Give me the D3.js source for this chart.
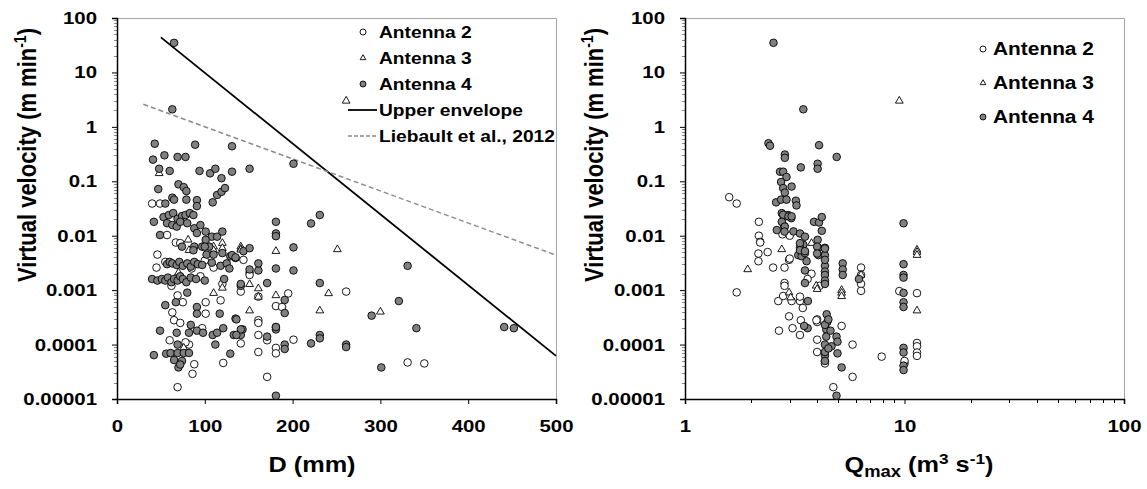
<!DOCTYPE html>
<html>
<head>
<meta charset="utf-8">
<script src="https://cdn.jsdelivr.net/npm/d3@7"></script>
<style>
  body { margin: 0; background: #fff; }
  svg { font-family: "Liberation Sans", Arial, sans-serif; font-weight: bold; }
</style>
</head>
<body>
<svg id="chart" width="1147" height="489"></svg>
<script>
// y axis (shared by both panels)
var yTicks = [0.00001, 0.0001, 0.001, 0.01, 0.1, 1, 10, 100];
var yTickLabels = ["0.00001", "0.0001", "0.001", "0.01", "0.1", "1", "10", "100"];
var dTicks = [0, 100, 200, 300, 400, 500];
var qTicks = [1, 10, 100];

// left panel: virtual velocity vs grain size D (mm)
var ant2D = [[40,0.039],[49,0.039],[57,0.0103],[67,0.0075],[72,0.0073],[46,0.0045],[55,0.0033],[45,0.0026],
  [110,0.0026],[100,0.0035],[85,0.0025],[69,0.0008],[63,0.00039],[101,0.00037],[101,0.0006],[118,0.00065],
  [65,0.00028],[72,0.00025],[97,0.0002],[82,0.0001],[88,0.0000435],[121,0.000046],[86,0.000029],[69,0.0000165],
  [60,0.00012],[78,0.00011],[62,0.0012],[95,0.0018],[120,0.0013],[75,0.0006],
  [144,0.0036],[151,0.0021],[151,0.0019],[141,0.00094],[161,0.00076],[195,0.00087],[181,0.00051],[188,0.00049],
  [161,0.00028],[161,0.00025],[181,0.00021],[161,0.00015],[171,0.00012],[141,0.000105],[161,0.000073],
  [181,0.000087],[181,0.000069],[201,0.000123],[261,0.00094],[171,0.0000255],[331,0.000047],[350,0.000045]];
var ant3D = [[48,0.14],[81,0.0084],[110,0.0063],[120,0.0073],[141,0.0063],[82,0.0054],[110,0.0054],[120,0.0059],
  [141,0.0057],[110,0.00088],[120,0.0011],[141,0.0055],[181,0.0052],[251,0.0056],[151,0.00128],[161,0.00107],
  [161,0.00075],[181,0.0008],[241,0.00087],[151,0.00042],[231,0.00042],[300,0.0004],[261,3.0],[76,0.000087],[70,0.0021]];
var ant4D = [[65,35],[63,2.1],[43,0.49],[41,0.25],[54,0.30],[69,0.28],[78,0.28],[89,0.47],[131,0.44],[151,0.17],[201,0.21],
  [48,0.17],[60,0.155],[94,0.155],[106,0.14],[112,0.17],[119,0.114],[131,0.15],
  [47,0.072],[70,0.088],[76,0.078],[79,0.066],[63,0.05],[65,0.046],[79,0.046],[91,0.045],[91,0.035],[109,0.041],
  [114,0.056],[119,0.064],[123,0.075],[55,0.039],
  [42,0.018],[49,0.0103],[53,0.022],[59,0.024],[64,0.026],[69,0.0205],[74,0.023],[78,0.024],[83,0.026],[87,0.024],
  [57,0.017],[63,0.0157],[68,0.0147],[72,0.018],[80,0.017],[88,0.0137],[95,0.0157],[101,0.0119],[108,0.0096],
  [114,0.0096],[120,0.0119],[105,0.0063],[91,0.0112],[101,0.0084],[88,0.0063],[97,0.0063],
  [181,0.018],[181,0.011],[181,0.0098],[231,0.024],[221,0.0168],
  [74,0.0063],[87,0.0054],[100,0.0063],[102,0.0045],[110,0.0045],[120,0.0048],[129,0.0042],[135,0.0039],[144,0.0052],
  [201,0.0061],[151,0.0059],[131,0.0044],[135,0.0040],
  [57,0.003],[60,0.0033],[63,0.0031],[68,0.0029],[71,0.0033],[75,0.0028],[80,0.0031],[84,0.0027],[88,0.0033],
  [92,0.003],[97,0.0029],[108,0.0032],[118,0.0028],[125,0.0031],[128,0.0025],
  [151,0.0024],[161,0.0023],[161,0.0031],[181,0.0025],[201,0.0023],[331,0.0028],
  [40,0.0016],[46,0.0015],[51,0.0016],[55,0.0015],[58,0.0017],[62,0.0014],[65,0.0016],[69,0.0015],[72,0.0018],
  [75,0.0016],[79,0.0014],[84,0.0017],[90,0.0016],[100,0.0015],[122,0.0016],[141,0.0012],[171,0.00135],
  [141,0.0013],[231,0.00135],
  [55,0.00053],[67,0.0006],[80,0.0009],[91,0.00049],[91,0.00037],[117,0.00037],[135,0.0003],[84,0.00023],
  [49,0.00018],[68,0.000165],[82,0.000165],[91,0.00018],[98,0.000165],[109,0.00015],[114,0.000165],[121,0.0002],
  [133,0.00015],[141,0.00015],[143,0.00019],[69,0.0001],[112,0.0001],[42,0.000064],[56,0.000068],[61,0.00007],
  [69,0.00007],[76,0.00007],[82,0.00007],[65,0.000052],[74,0.00005],[70,0.000038],[72,0.000043],[129,0.000068],
  [191,0.00066],[191,0.00038],[136,0.00029],[141,0.00019],[136,0.00015],[171,0.00014],[181,0.00019],[181,0.00021],
  [191,0.0001],[191,0.000083],[221,0.000105],[231,0.00015],[231,0.00013],[261,0.0001],[261,0.00009],[181,0.0000115],
  [290,0.00034],[301,0.000038],[321,0.00063],[341,0.0002],[441,0.00021],[452,0.0002]];
var upperEnvelope = [[50,44],[500,0.000062]];
var liebault2012 = [[30,2.6],[500,0.0044]];

// right panel: virtual velocity vs peak discharge Qmax (m3/s)
var ant2Q = [[1.59,0.051],[1.72,0.039],[2.17,0.018],[2.17,0.01],[2.2,0.0077],[2.78,0.0106],[2.2,0.0075],[2.16,0.0047],
  [2.38,0.005],[2.16,0.0034],[2.52,0.0026],[2.84,0.0026],[2.98,0.0036],[2.84,0.00135],[2.84,0.0012],[1.72,0.00091],
  [2.66,0.00063],[2.8,0.00078],[3.34,0.00063],[3.44,0.00047],[2.98,0.00033],[3.37,0.00028],[2.68,0.00018],
  [3.09,0.0002],[3.34,0.00015],[3.77,0.002],[4.0,0.00026],[4.0,0.00029],[4.0,0.000123],[4.0,0.000073],
  [4.34,0.000049],[4.34,0.000045],[4.74,0.0000165],[5.8,0.0001],[5.8,0.0000255],[6.34,0.0026],[6.34,0.0019],
  [6.34,0.0013],[6.34,0.00097],[5.17,0.00022],[4.34,0.00135],[3.06,0.00063],[3.34,0.00076],[3.0,0.0038],
  [3.97,0.00028],[3.62,0.0016],[4.1,0.0012],[3.0,0.01],
  [7.87,0.00006],[9.47,0.00096],[10,0.000045],[10,0.00005],[11.4,0.00088],[11.4,0.000107],[11.4,0.000093],
  [11.4,0.0000715],[11.4,0.000062]];
var ant3Q = [[1.93,0.0024],[2.76,0.0056],[2.98,0.0009],[3.03,0.00073],[3.96,0.0012],[4.0,0.00104],[5.17,0.001],
  [5.17,0.00089],[5.17,0.00077],[6.34,0.0019],[3.77,0.0073],[9.47,3.0],[11.4,0.0055],[11.4,0.005],[11.4,0.0044],[11.4,0.00042]];
var ant4Q = [[2.53,35],[3.46,2.1],[2.40,0.50],[2.44,0.45],[4.08,0.46],[4.91,0.28],[2.85,0.31],[2.85,0.27],[3.37,0.18],
  [4.02,0.21],[4.02,0.17],[2.71,0.15],[2.80,0.15],[2.9,0.12],[2.74,0.097],[2.8,0.075],[3.06,0.08],[2.85,0.062],
  [2.60,0.041],[2.74,0.046],[2.9,0.046],[3.2,0.044],[3.22,0.036],[2.76,0.026],[2.82,0.022],[2.95,0.024],[3.05,0.021],
  [2.62,0.0127],[2.83,0.015],[3.12,0.012],[3.34,0.011],[3.52,0.0096],[3.87,0.018],[4.08,0.0175],[4.2,0.022],[4.2,0.0123],
  [2.8,0.0243],[2.96,0.0227],[3.06,0.0227],[2.76,0.018],[2.85,0.0147],[2.84,0.0119],
  [3.46,0.0068],[3.34,0.006],[3.28,0.0044],[3.4,0.0042],[3.52,0.0048],[4.02,0.0084],[4.05,0.006],[4.05,0.0044],
  [4.34,0.006],[4.34,0.0044],[4.34,0.0028],[4.34,0.0022],[4.34,0.0019],[4.34,0.0015],[4.34,0.0013],[4.34,0.0036],
  [4.34,0.0058],[4.0,0.0063],[4.0,0.0047],[3.34,0.0073],[3.34,0.0054],[3.52,0.0052],
  [3.58,0.0034],[3.52,0.0023],[3.52,0.00135],[3.63,0.00063],[3.62,0.0002],[3.49,0.00022],
  [5.23,0.0031],[5.23,0.0024],[5.23,0.0019],[6.2,0.0016],
  [4.42,0.00036],[4.45,0.00026],[4.4,0.00019],[4.4,0.00014],[4.34,0.0001],[4.34,0.000063],[4.34,0.00005],
  [4.34,0.00023],[4.5,0.00029],[4.9,0.00014],[4.95,0.000113],[4.95,0.000069],[4.65,0.000093],[5.17,0.000038],
  [4.9,0.0000115],[4.34,0.000073],[4.5,0.000085],[4.6,0.00018],
  [9.9,0.0169],[9.9,0.0030],[9.9,0.0019],[9.9,0.0017],[9.9,0.00089],[9.9,0.0006],[9.9,0.00049],[9.9,0.000087],
  [9.9,0.0000715],[9.9,0.000041],[9.9,0.000034]];

var svg = d3.select('#chart');
var plotTop = 18, plotBottom = 399;
var tri = d3.symbol().type(d3.symbolTriangle);
var fontFam = '"Liberation Sans", Arial, sans-serif';
var sx = 1.2;   // the reference text is a bit wider than plain Arial

function drawPanel(p){
  var g = svg.append('g');
  var x = p.x;
  var y = d3.scaleLog().domain([0.00001, 100]).range([plotBottom, plotTop]);
  var x0 = x.range()[0], x1 = x.range()[1];

  // plot area frame (top / right in gray)
  g.append('path')
      .attr('d', 'M' + x0 + ',' + (plotTop + 0.5) + 'H' + (x1 + 0.5) + 'V' + plotBottom)
      .attr('fill', 'none').attr('stroke', '#a6a6a6').attr('stroke-width', 1);

  // y minor ticks
  var yMinor = [];
  yTicks.slice(0, -1).forEach(function(t){ for (var k = 2; k < 10; k++) yMinor.push(t * k); });
  g.selectAll('.ym').data(yMinor).enter().append('line')
      .attr('x1', x0 - 3).attr('x2', x0)
      .attr('y1', function(d){ return Math.round(y(d)) + 0.5; })
      .attr('y2', function(d){ return Math.round(y(d)) + 0.5; })
      .attr('stroke', '#8a8a8a').attr('stroke-width', 1);

  var yAxis = g.append('g')
      .attr('transform', 'translate(' + x0 + ',0)')
      .call(d3.axisLeft(y).tickValues(yTicks).tickSize(5)
        .tickFormat(function(d, i){ return yTickLabels[i]; }));
  yAxis.select('.domain').attr('stroke', '#000').attr('stroke-width', 1.5);
  yAxis.selectAll('text').attr('font-size', 17).attr('font-weight', 'bold').attr('fill', '#000')
      .attr('font-family', fontFam).attr('x', -20 / sx).attr('transform', 'scale(' + sx + ',1)');

  var xAxis = g.append('g')
      .attr('transform', 'translate(0,' + plotBottom + ')')
      .call(d3.axisBottom(x).tickValues(p.ticks).tickSize(5).tickPadding(16).tickFormat(d3.format('d')));
  xAxis.select('.domain').attr('stroke', '#000').attr('stroke-width', 1.5);
  xAxis.selectAll('text').attr('font-size', 17).attr('font-weight', 'bold').attr('fill', '#000')
      .attr('font-family', fontFam).attr('transform', 'scale(' + sx + ',1)');
  if (p.logX) {
    var xMinor = [];
    [1, 10].forEach(function(t){ for (var k = 2; k < 10; k++) xMinor.push(t * k); });
    g.selectAll('.xm').data(xMinor).enter().append('line')
        .attr('x1', function(d){ return Math.round(x(d)) + 0.5; })
        .attr('x2', function(d){ return Math.round(x(d)) + 0.5; })
        .attr('y1', plotBottom).attr('y2', plotBottom + 4)
        .attr('stroke', '#000').attr('stroke-width', 1);
  }

  // lines
  var line = d3.line().x(function(d){ return x(d[0]); }).y(function(d){ return y(d[1]); });
  (p.lines || []).forEach(function(l){
    g.append('path').datum(l.data).attr('d', line).attr('fill', 'none')
        .attr('stroke', l.color).attr('stroke-width', l.width).attr('stroke-dasharray', l.dash || null);
  });

  // points
  g.selectAll('.a2').data(p.a2).enter().append('circle')
      .attr('cx', function(d){ return x(d[0]); }).attr('cy', function(d){ return y(d[1]); })
      .attr('r', 3.8).attr('fill', '#fff').attr('stroke', '#000').attr('stroke-width', 0.9);
  g.selectAll('.a3').data(p.a3).enter().append('path')
      .attr('d', tri.size(26))
      .attr('transform', function(d){ return 'translate(' + x(d[0]) + ',' + y(d[1]) + ')'; })
      .attr('fill', '#fff').attr('stroke', '#000').attr('stroke-width', 0.9);
  g.selectAll('.a4').data(p.a4).enter().append('circle')
      .attr('cx', function(d){ return x(d[0]); }).attr('cy', function(d){ return y(d[1]); })
      .attr('r', 3.8).attr('fill', '#808080').attr('stroke', '#000').attr('stroke-width', 0.9);

  // y title
  var yt = svg.append('text')
      .attr('transform', 'translate(' + p.yTitleX + ',155) scale(' + sx + ',1) rotate(-90)')
      .attr('text-anchor', 'middle').attr('font-size', 22);
  yt.append('tspan').text('Virtual velocity (m min');
  yt.append('tspan').attr('font-size', 14).attr('dy', -8).text('-1');
  yt.append('tspan').attr('dy', 8).text(')');

  // legend
  var lg = svg.append('g').attr('font-size', p.legend.font);
  p.legend.items.forEach(function(it, i){
    var cy = p.legend.y0 + i * p.legend.dy;
    var mx = p.legend.mx;
    if (it.kind === 'open' || it.kind === 'gray') {
      lg.append('circle').attr('cx', mx).attr('cy', cy).attr('r', 3)
          .attr('fill', it.kind === 'open' ? '#fff' : '#808080').attr('stroke', '#000').attr('stroke-width', 0.9);
    } else if (it.kind === 'tri') {
      lg.append('path').attr('d', tri.size(14)).attr('transform', 'translate(' + mx + ',' + cy + ')')
          .attr('fill', '#fff').attr('stroke', '#000').attr('stroke-width', 0.9);
    } else {
      lg.append('line').attr('x1', mx - 15).attr('x2', mx + 14).attr('y1', cy).attr('y2', cy)
          .attr('stroke', it.color).attr('stroke-width', it.width).attr('stroke-dasharray', it.dash || null);
    }
    lg.append('text').attr('transform', 'translate(' + p.legend.tx + ',' + cy + ') scale(' + p.legend.sx + ',1)')
        .attr('dy', '0.36em').text(it.label);
  });
}

drawPanel({
  x: d3.scaleLinear().domain([0, 500]).range([117, 556]),
  ticks: dTicks, logX: false,
  a2: ant2D, a3: ant3D, a4: ant4D,
  lines: [
    {data: upperEnvelope, color: '#000', width: 1.8},
    {data: liebault2012, color: '#8c8c8c', width: 1.5, dash: '5,3'}
  ],
  yTitleX: 36,
  legend: {font: 16, sx: 1.2, mx: 363, tx: 379, y0: 32, dy: 26, items: [
    {kind: 'open', label: 'Antenna 2'},
    {kind: 'tri', label: 'Antenna 3'},
    {kind: 'gray', label: 'Antenna 4'},
    {kind: 'line', label: 'Upper envelope', color: '#000', width: 1.8},
    {kind: 'line', label: 'Liebault et al., 2012', color: '#8c8c8c', width: 1.3, dash: '4,2'}
  ]}
});

drawPanel({
  x: d3.scaleLog().domain([1, 100]).range([685, 1124]),
  ticks: qTicks, logX: true,
  a2: ant2Q, a3: ant3Q, a4: ant4Q,
  yTitleX: 603,
  legend: {font: 18, sx: 1.16, mx: 983, tx: 993, y0: 49, dy: 34, items: [
    {kind: 'open', label: 'Antenna 2'},
    {kind: 'tri', label: 'Antenna 3'},
    {kind: 'gray', label: 'Antenna 4'}
  ]}
});

// x titles
svg.append('text').attr('transform', 'translate(312,472) scale(1.15,1)')
    .attr('text-anchor', 'middle').attr('font-size', 22).text('D (mm)');
var qt = svg.append('text').attr('transform', 'translate(919,472) scale(1.15,1)')
    .attr('text-anchor', 'middle').attr('font-size', 22);
qt.append('tspan').text('Q');
qt.append('tspan').attr('font-size', 16).attr('dy', 5).text('max');
qt.append('tspan').attr('dy', -5).text(' (m');
qt.append('tspan').attr('font-size', 15).attr('dy', -8).text('3');
qt.append('tspan').attr('dy', 8).text(' s');
qt.append('tspan').attr('font-size', 15).attr('dy', -8).text('-1');
qt.append('tspan').attr('dy', 8).text(')');
</script>
</body>
</html>
